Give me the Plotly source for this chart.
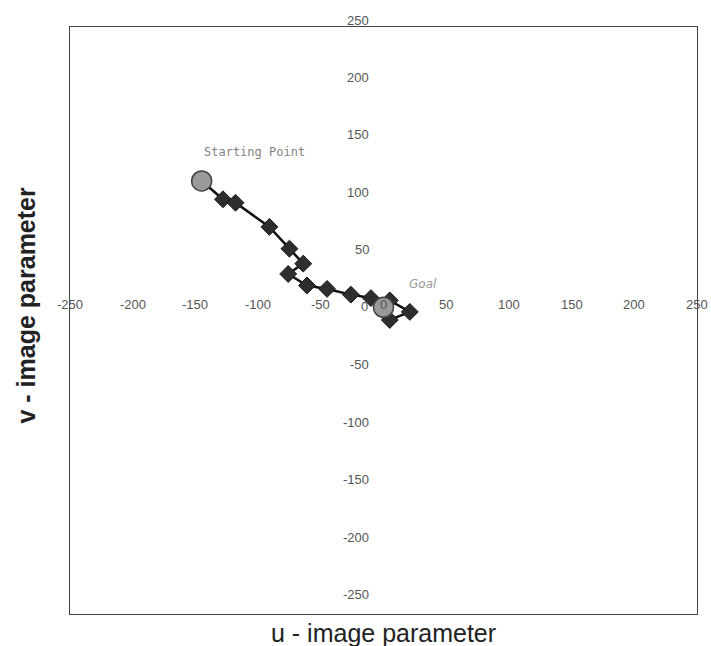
import plotly.graph_objects as go

# trajectory in image parameters (u, v)
path_u = [-145, -128, -118, -91, -75, -64, -76, -61, -45, -26, -10, 5, 21, 5, 0]
path_v = [110, 94, 91, 70, 51, 38, 29, 19, 16, 11, 8, 6, -4, -11, 0]
diamond_u = path_u[1:-1]
diamond_v = path_v[1:-1]
start_u, start_v = [-145], [110]
goal_u, goal_v = [0], [0]
tick_vals = [-250, -200, -150, -100, -50, 0, 50, 100, 150, 200, 250]
y_range = [-267, 244]

FONT = "Liberation Sans, Arial, sans-serif"
TICKFONT = dict(family=FONT, size=13, color="#555555")

fig = go.Figure()
fig.add_trace(go.Scatter(x=path_u, y=path_v, mode="lines",
                         line=dict(color="#111111", width=2.5), hoverinfo="skip"))
fig.add_trace(go.Scatter(x=diamond_u, y=diamond_v, mode="markers",
                         marker=dict(symbol="diamond", size=13, color="#2e2e2e",
                                     line=dict(color="#1a1a1a", width=1))))
fig.add_trace(go.Scatter(x=start_u + goal_u, y=start_v + goal_v, mode="markers",
                         marker=dict(symbol="circle", size=20, color="#9a9a9a",
                                     line=dict(color="#444444", width=1.5))))

ann = []
for t in tick_vals:
    ann.append(dict(x=t, y=0, xref="x", yref="y", text=str(t), showarrow=False,
                    yshift=3, font=TICKFONT))
for t in tick_vals:
    if t == 0:
        continue
    if y_range[0] <= t <= y_range[1]:
        ann.append(dict(x=0, y=t, xref="x", yref="y", text=str(t), showarrow=False,
                        xanchor="right", xshift=-13, font=TICKFONT))
    else:
        # label sits just outside the plotted range (across the frame)
        frac = (t - y_range[0]) / (y_range[1] - y_range[0])
        ann.append(dict(x=0, y=frac, xref="x", yref="paper", text=str(t), showarrow=False,
                        xanchor="right", yanchor="middle", xshift=-13, font=TICKFONT))
ann.append(dict(x=0, y=0, xref="x", yref="y", text="0", showarrow=False,
                xanchor="right", xshift=-14, yshift=1, font=TICKFONT))
ann.append(dict(x=-145, y=110, xref="x", yref="y", text="Starting Point", showarrow=False,
                xanchor="left", yanchor="bottom", xshift=0, yshift=20,
                font=dict(family="DejaVu Sans Mono, monospace", size=12, color="#858585")))
ann.append(dict(x=0, y=0, xref="x", yref="y", text="<i>Goal</i>", showarrow=False,
                xanchor="left", yanchor="bottom", xshift=23, yshift=14,
                font=dict(family="DejaVu Sans, sans-serif", size=12, color="#999999")))
ann.append(dict(x=0.5, y=0, xref="paper", yref="paper", text="u - image parameter",
                showarrow=False, yanchor="middle", yshift=-19,
                font=dict(family=FONT, size=25, color="#222222")))
ann.append(dict(x=0, y=0.5, xref="paper", yref="paper", text="<b>v - image parameter</b>",
                showarrow=False, textangle=-90, xanchor="center", yanchor="middle",
                xshift=-45, yshift=15,
                font=dict(family=FONT, size=25, color="#222222")))

fig.update_layout(
    width=711, height=646,
    margin=dict(l=70, r=14, t=27, b=32),
    paper_bgcolor="white", plot_bgcolor="white",
    showlegend=False,
    annotations=ann,
    xaxis=dict(range=[-250, 250], showgrid=False, zeroline=False, showticklabels=False,
               ticks="", showline=True, linecolor="#444444", linewidth=1, mirror=True),
    yaxis=dict(range=y_range, showgrid=False, zeroline=False, showticklabels=False,
               ticks="", showline=True, linecolor="#444444", linewidth=1, mirror=True),
)
fig.write_html("out.html")
